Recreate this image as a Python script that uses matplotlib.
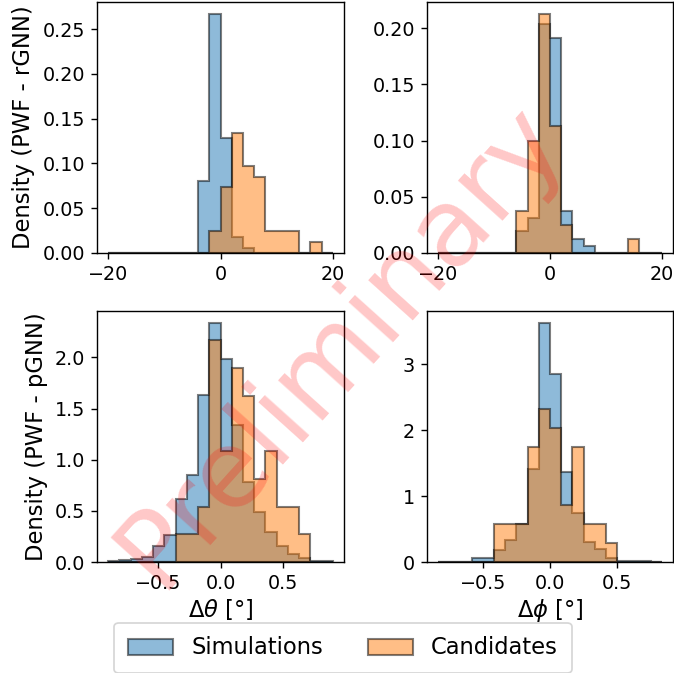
import numpy as np
import matplotlib
matplotlib.use('Agg')
import matplotlib.pyplot as plt

# bin setup (20 bins per panel)
angle_range = (-20, 20)
theta_range = (-0.9, 0.9)
phi_range = (-0.84, 0.84)

# densities, one value per bin (left to right)
# top row: PWF - rGNN
rgnn_theta_sim = [0, 0, 0, 0, 0, 0, 0, 0, 0.080, 0.267,
                  0.128, 0.018, 0.0056, 0, 0, 0, 0, 0, 0, 0]
rgnn_theta_cand = [0, 0, 0, 0, 0, 0, 0, 0, 0, 0.0244,
                   0.0732, 0.1341, 0.0976, 0.0854, 0.0244, 0.0244, 0.0244, 0, 0.0122, 0]
rgnn_phi_sim = [0, 0, 0, 0, 0, 0, 0, 0.0198, 0.0309, 0.2038,
                0.1914, 0.0377, 0.0125, 0.0062, 0, 0, 0, 0, 0, 0]
rgnn_phi_cand = [0, 0, 0, 0, 0, 0, 0, 0.0375, 0.100, 0.2125,
                 0.1125, 0.025, 0, 0, 0, 0, 0, 0.0125, 0, 0]

# bottom row: PWF - pGNN
pgnn_theta_sim = [0.005, 0.015, 0.030, 0.050, 0.155, 0.264, 0.615, 0.850, 1.630, 2.337,
                  1.980, 1.338, 0.780, 0.490, 0.290, 0.160, 0.080, 0.036, 0.010, 0.005]
pgnn_theta_cand = [0, 0, 0, 0, 0, 0, 0.271, 0.271, 0.542, 2.168,
                   1.084, 1.897, 1.626, 0.813, 1.084, 0.542, 0.542, 0.271, 0, 0]
pgnn_phi_sim = [0, 0, 0, 0.056, 0.056, 0.180, 0.333, 0.580, 1.410, 3.626,
                2.850, 1.370, 0.740, 0.310, 0.190, 0.056, 0.010, 0.010, 0.020, 0]
pgnn_phi_cand = [0, 0, 0, 0, 0, 0.581, 0.581, 0.581, 1.742, 2.323,
                 2.033, 0.871, 1.742, 0.581, 0.581, 0.290, 0, 0, 0, 0]

plt.rcParams['xtick.labelsize'] = 11
plt.rcParams['ytick.labelsize'] = 11
plt.rcParams['axes.labelsize'] = 13

W, H, DPI = 674, 673, 125
fig = plt.figure(figsize=(W / DPI, H / DPI), dpi=DPI)

def px_axes(left, top, right, bottom):
    return fig.add_axes([left / W, 1 - bottom / H, (right - left) / W, (bottom - top) / H])

ax_tl = px_axes(97, 2, 344, 253)
ax_tr = px_axes(427, 2, 673, 253)
ax_bl = px_axes(97, 311, 344, 562)
ax_br = px_axes(427, 311, 673, 562)

def draw(ax, rng, sim, cand):
    edges = np.linspace(rng[0], rng[1], len(sim) + 1)
    centers = 0.5 * (edges[:-1] + edges[1:])
    ax.hist(centers, bins=edges, weights=sim, histtype='stepfilled', alpha=0.5,
            color='C0', edgecolor='k', linewidth=1.2, label='Simulations')
    ax.hist(centers, bins=edges, weights=cand, histtype='stepfilled', alpha=0.5,
            color='C1', edgecolor='k', linewidth=1.2, label='Candidates')

draw(ax_tl, angle_range, rgnn_theta_sim, rgnn_theta_cand)
draw(ax_tr, angle_range, rgnn_phi_sim, rgnn_phi_cand)
draw(ax_bl, theta_range, pgnn_theta_sim, pgnn_theta_cand)
draw(ax_br, phi_range, pgnn_phi_sim, pgnn_phi_cand)

ax_tl.set_ylabel('Density (PWF - rGNN)')
ax_bl.set_ylabel('Density (PWF - pGNN)')
ax_bl.set_xlabel(r'$\Delta\theta$ [°]', labelpad=2)
ax_br.set_xlabel(r'$\Delta\phi$ [°]', labelpad=2)

handles, labels = ax_tl.get_legend_handles_labels()
fig.legend(handles, labels, loc='center', ncol=2, fontsize=13, borderpad=0.6,
           bbox_to_anchor=(343 / W, 1 - 648 / H))

fig.text(340 / W, 1 - 345 / H, 'Preliminary', fontsize=62, color='red', alpha=0.22,
         rotation=48, ha='center', va='center', rotation_mode='anchor', zorder=10)

fig.savefig('out.png', dpi=DPI)
